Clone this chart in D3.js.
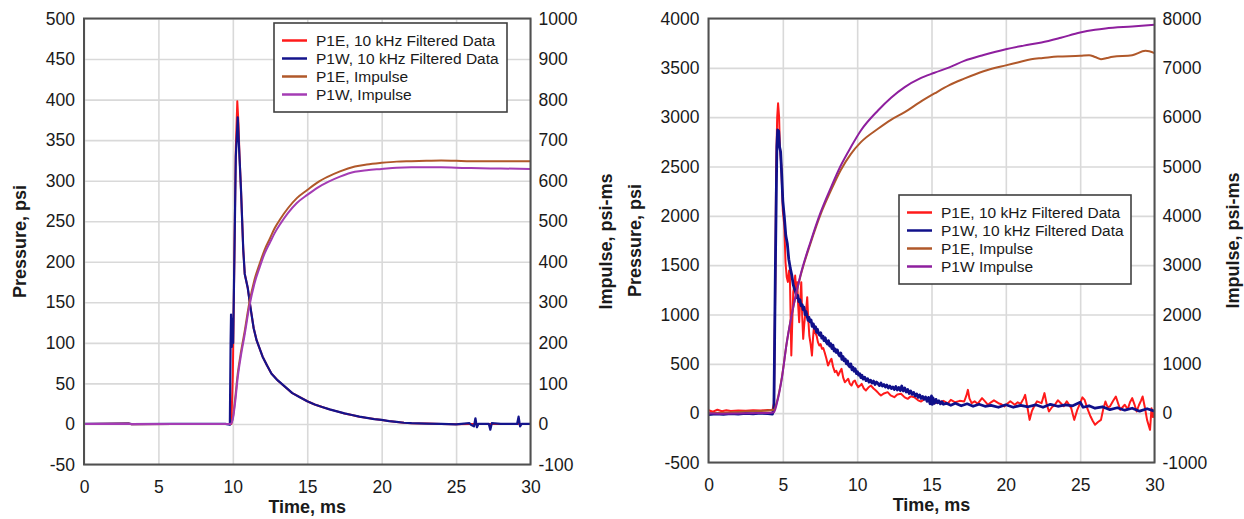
<!DOCTYPE html>
<html>
<head>
<meta charset="utf-8">
<script src="https://cdn.jsdelivr.net/npm/d3@7"></script>
<style>
body { margin: 0; background: #fff; }
svg { font-family: "Liberation Sans", Arial, sans-serif; }
</style>
</head>
<body>
<svg id="chart" width="1244" height="519"></svg>
<script>
// ---- shared ticks
var timeTicks = [0, 5, 10, 15, 20, 25, 30];
var leftPressTicks = [-50, 0, 50, 100, 150, 200, 250, 300, 350, 400, 450, 500];
var leftImpTicks = [-100, 0, 100, 200, 300, 400, 500, 600, 700, 800, 900, 1000];
var rightPressTicks = [-500, 0, 500, 1000, 1500, 2000, 2500, 3000, 3500, 4000];
var rightImpTicks = [-1000, 0, 1000, 2000, 3000, 4000, 5000, 6000, 7000, 8000];

var leftLabels = ['P1E, 10 kHz Filtered Data', 'P1W, 10 kHz Filtered Data', 'P1E, Impulse', 'P1W, Impulse'];
var rightLabels = ['P1E, 10 kHz Filtered Data', 'P1W, 10 kHz Filtered Data', 'P1E, Impulse', 'P1W Impulse'];

// ---- left test: [time ms, value]
var leftP1E = [[0,0],[3,0.5],[3.2,-0.3],[6,0],[9.5,0],[9.9,0],[10.0,60],[10.1,200],[10.2,340],[10.3,398],[10.38,370],[10.45,330],
  [10.55,288],[10.7,215],[10.8,185],[11.0,168],[11.2,142],[11.4,118],[11.6,103],[12.0,83],[12.3,72],[12.6,62],[13.0,54],
  [13.5,46],[14.0,38],[14.5,33],[15.0,28],[15.5,24],[16.0,21],[16.5,18],[17.0,15.5],[17.5,13],[18.0,11],[18.5,9],[19.0,7.5],
  [19.5,6],[20.0,5],[20.5,3.5],[21.0,2.5],[21.5,1.5],[22,1],[23,0.5],[24,0],[25,-0.5],[26,0],[28,0],[30,0]];
var leftP1W = [[0,0],[3,0.5],[3.2,-0.3],[6,0],[9.5,0],[9.8,-1],[9.85,100],[9.88,135],[9.93,95],[9.98,130],[10.02,100],[10.1,200],
  [10.2,330],[10.33,378],[10.42,340],[10.55,288],[10.7,215],[10.8,185],[11.0,168],[11.2,142],[11.4,118],[11.6,103],[12.0,83],
  [12.3,72],[12.6,62],[13.0,54],[13.5,46],[14.0,38],[14.5,33],[15.0,28],[15.5,24],[16.0,21],[16.5,18],[17.0,15.5],[17.5,13],
  [18.0,11],[18.5,9],[19.0,7.5],[19.5,6],[20.0,5],[20.5,3.5],[21.0,2.5],[21.5,1.5],[22,1],[23,0.5],[24,0],[25,-0.5],[25.9,1],
  [26.0,-1],[26.2,-3],[26.3,7],[26.4,-4],[26.5,0],[27.2,0],[27.3,-7],[27.4,1],[28,0],[29.1,0],[29.2,9],[29.3,-3],[29.4,0],[30,0]];
var leftImpP1E = [[0,0],[9.85,0],[10.0,15],[10.15,60],[10.33,124],[10.55,178],[10.77,223],[11.1,297],[11.45,355],[11.8,395],
  [12.13,429],[12.5,458],[12.8,482],[13.2,506],[13.7,532],[14.3,557],[15.0,577],[15.7,596],[16.4,610],[17.2,623],[18.2,635],
  [19.0,640],[20.0,644],[21.0,647],[22.0,648],[23.0,649],[24.0,650],[25.0,649],[26,648],[28,648],[30,648]];
var leftImpP1W = [[0,0],[9.85,0],[10.0,12],[10.15,52],[10.33,115],[10.55,170],[10.77,215],[11.1,288],[11.45,346],[11.8,386],
  [12.13,420],[12.5,448],[12.8,470],[13.2,494],[13.7,520],[14.3,545],[15.0,565],[15.7,583],[16.4,597],[17.2,610],[18.2,622],
  [19.0,626],[20.0,629],[21.0,632],[22.0,633],[23.0,633],[24.0,633],[25.0,632],[26,631],[28,630],[30,629]];

// ---- right test
var rightP1E = [[0,30],[0.3,15],[0.6,35],[0.9,20],[1.2,30],[1.5,22],[2,27],[2.5,24],[3,30],[3.5,26],[4,31],[4.3,30],
  [4.4,100],[4.5,1400],[4.55,2500],[4.62,3000],[4.68,3140],[4.75,3000],[4.8,2700],[4.9,2500],[5.0,2050],[5.1,1900],
  [5.18,1530],[5.26,1380],[5.34,1330],[5.42,1446],[5.47,1420],[5.57,584],[5.63,900],[5.7,1226],[5.77,1300],[5.83,1395],
  [5.9,1250],[5.97,1328],[6.03,1100],[6.1,922],[6.17,1150],[6.24,1328],[6.3,1000],[6.37,753],[6.44,900],[6.5,990],[6.57,1050],
  [6.64,1176],[6.7,980],[6.78,787],[6.87,700],[6.96,584],[7.03,760],[7.1,888],[7.18,820],[7.27,787],[7.36,720],[7.45,686],
  [7.54,700],[7.63,652],[7.72,660],[7.81,618],[7.92,560],[8.04,483],[8.15,520],[8.27,551],[8.38,470],[8.5,416],[8.6,430],
  [8.72,382],[8.84,420],[8.95,449],[9.06,360],[9.17,314],[9.28,330],[9.4,348],[9.5,300],[9.62,280],[9.74,320],[9.85,331],
  [9.96,290],[10.07,264],[10.2,280],[10.3,297],[10.45,250],[10.59,230],[10.75,260],[10.93,280],[11.1,250],[11.26,230],
  [11.45,200],[11.6,179],[11.8,200],[12.05,213],[12.25,180],[12.5,162],[12.7,190],[12.95,196],[13.2,160],[13.4,145],
  [13.6,170],[13.85,162],[14.1,130],[14.3,118],[14.5,140],[14.75,145],[15.0,120],[15.2,101],[15.5,110],[15.8,125],[16.1,100],
  [16.3,135],[16.6,110],[16.9,125],[17.2,118],[17.35,180],[17.45,236],[17.55,150],[17.7,101],[17.9,120],[18.1,95],[18.4,152],
  [18.6,120],[18.8,85],[19.0,110],[19.2,130],[19.5,101],[19.7,90],[19.9,68],[20.1,95],[20.3,120],[20.6,85],[20.8,110],
  [21.0,95],[21.2,150],[21.3,186],[21.45,60],[21.6,-68],[21.75,20],[21.9,68],[22.1,120],[22.4,101],[22.6,203],[22.75,90],
  [22.9,17],[23.1,60],[23.3,85],[23.5,130],[23.7,101],[23.9,70],[24.1,120],[24.4,51],[24.6,-68],[24.8,30],[25.0,101],
  [25.15,160],[25.3,135],[25.5,40],[25.7,-34],[25.85,-80],[26.0,-118],[26.2,-90],[26.4,-68],[26.55,40],[26.7,118],
  [26.85,60],[27.0,68],[27.2,120],[27.4,169],[27.55,100],[27.7,34],[27.85,60],[28.0,85],[28.2,40],[28.35,110],[28.5,152],
  [28.65,90],[28.8,17],[28.95,80],[29.1,130],[29.2,169],[29.35,60],[29.5,-68],[29.6,-120],[29.7,-169],[29.8,51],[29.9,-40],[30,10]];
var rightP1W = [[0,-15],[0.5,-8],[1,-12],[1.5,-5],[2,-10],[2.5,-3],[3,-8],[3.5,0],[4,-5],[4.3,-10],[4.4,50],[4.5,1500],
  [4.6,2700],[4.65,2870],[4.72,2860],[4.78,2700],[4.85,2650],[4.93,2400],[5.0,2150],[5.1,1990],[5.2,1800],[5.3,1720],
  [5.4,1560],[5.5,1470],[5.6,1400],[5.7,1300],[5.85,1230],[5.95,1170],[6.0,1195],[6.08,1130],[6.15,1150],[6.22,1090],
  [6.3,1100],[6.36,1050],[6.42,1075],[6.5,1000],[6.56,1030],[6.63,985],[6.7,940],[6.76,970],[6.83,925],[6.9,945],[6.97,880],
  [7.05,905],[7.12,860],[7.2,875],[7.27,820],[7.33,850],[7.4,810],[7.47,790],[7.55,815],[7.62,760],[7.7,780],[7.77,735],
  [7.85,765],[7.92,720],[8.0,700],[8.07,735],[8.15,680],[8.22,705],[8.3,655],[8.37,690],[8.45,630],[8.52,650],[8.6,615],
  [8.67,640],[8.75,595],[8.82,580],[8.9,610],[8.97,545],[9.05,575],[9.12,530],[9.2,550],[9.27,500],[9.35,530],[9.42,485],
  [9.5,470],[9.57,500],[9.65,440],[9.72,465],[9.8,425],[9.87,450],[9.95,400],[10.02,420],[10.1,385],[10.17,400],[10.25,360],
  [10.32,385],[10.4,345],[10.5,365],[10.6,330],[10.7,350],[10.8,315],[10.9,335],[11.0,305],[11.1,325],[11.2,290],[11.3,315],
  [11.4,300],[11.5,280],[11.6,305],[11.7,275],[11.8,290],[11.9,265],[12.0,285],[12.1,255],[12.2,275],[12.3,250],[12.4,265],
  [12.5,240],[12.6,270],[12.7,235],[12.8,260],[12.9,230],[13.0,275],[13.1,225],[13.2,255],[13.3,215],[13.4,240],[13.5,200],
  [13.6,225],[13.7,190],[13.8,210],[13.9,175],[14.0,195],[14.1,160],[14.2,185],[14.3,150],[14.4,170],[14.5,140],[14.6,165],
  [14.7,120],[14.8,160],[14.9,95],[15.0,175],[15.05,90],[15.1,155],[15.2,100],[15.3,140],[15.4,105],[15.5,125],[15.6,95],
  [15.7,115],[15.8,90],[16,100],[16.3,80],[16.6,100],[17,75],[17.4,95],[17.8,70],[18.2,90],[18.6,70],[19,80],[19.5,60],
  [20,85],[20.5,60],[21,80],[21.5,65],[22,85],[22.5,60],[23,90],[23.5,70],[24,85],[24.5,75],[25,110],[25.2,60],[25.6,75],
  [26,50],[26.5,65],[27,35],[27.5,55],[28,30],[28.5,50],[29,20],[29.5,45],[30,20]];
var rightImpP1E = [[0,0],[1,10],[2,25],[3,40],[4,55],[4.4,68],[4.6,230],[4.93,720],[5.27,1440],[5.72,2170],[6.18,2770],
  [6.86,3440],[7.54,4030],[8.2,4490],[8.9,4930],[9.57,5250],[10.25,5493],[11.4,5764],[12.3,5950],[13.2,6101],[14.2,6300],
  [15.2,6480],[16.2,6650],[17.2,6780],[18.5,6930],[20,7050],[20.8,7108],[21.7,7176],[22.5,7200],[23.5,7230],[25,7243],
  [25.6,7257],[26.0,7220],[26.4,7176],[26.8,7200],[27.2,7223],[28.5,7257],[29.4,7345],[30,7297]];
var rightImpP1W = [[0,0],[1,-10],[2,-5],[3,0],[4,5],[4.4,20],[4.6,200],[4.93,700],[5.27,1440],[5.72,2180],[6.18,2790],
  [6.86,3470],[7.54,4070],[8.2,4550],[8.9,5020],[9.57,5390],[10.25,5730],[11.4,6135],[12.3,6400],[13.2,6610],[14.2,6780],
  [15.2,6900],[16.2,7010],[17.2,7140],[18.5,7260],[20,7378],[21.2,7450],[22.4,7514],[23.7,7610],[25,7716],[26,7770],
  [26.7,7797],[28.5,7838],[30,7872]];

var svg = d3.select('#chart');
var plain = function(d) { return String(d); };

function drawPanel(p) {
  var x = d3.scaleLinear().domain([0, 30]).range([p.left, p.right]);
  var yP = d3.scaleLinear().domain([p.pTicks[0], p.pTicks[p.pTicks.length - 1]]).range([p.bottom, p.top]);
  var yI = d3.scaleLinear().domain([p.iTicks[0], p.iTicks[p.iTicks.length - 1]]).range([p.bottom, p.top]);
  var g = svg.append('g');

  // grid
  g.append('g')
    .attr('transform', 'translate(0,' + p.bottom + ')')
    .call(d3.axisBottom(x).tickValues(timeTicks).tickSize(-(p.bottom - p.top)).tickFormat(''))
    .call(function(s) { s.select('.domain').remove(); });
  g.append('g')
    .attr('transform', 'translate(' + p.left + ',0)')
    .call(d3.axisLeft(yP).tickValues(p.pTicks).tickSize(-(p.right - p.left)).tickFormat(''))
    .call(function(s) { s.select('.domain').remove(); });
  g.selectAll('.tick line').attr('stroke', '#d9d9d9').attr('stroke-width', 1.6);

  // series
  var clipId = 'clip' + Math.round(p.left);
  g.append('clipPath').attr('id', clipId).append('rect')
    .attr('x', p.left).attr('y', p.top).attr('width', p.right - p.left).attr('height', p.bottom - p.top);
  var lineP = d3.line().x(function(d){ return x(d[0]); }).y(function(d){ return yP(d[1]); });
  var lineI = d3.line().curve(d3.curveMonotoneX).x(function(d){ return x(d[0]); }).y(function(d){ return yI(d[1]); });
  var series = [
    {data: p.p1e, line: lineP, color: p.colors[0], w: 2},
    {data: p.p1w, line: lineP, color: p.colors[1], w: p.blueW},
    {data: p.i1e, line: lineI, color: p.colors[2], w: 2},
    {data: p.i1w, line: lineI, color: p.colors[3], w: 2}
  ];
  g.append('g').attr('clip-path', 'url(#' + clipId + ')')
    .selectAll('path').data(series).enter().append('path')
    .attr('d', function(d){ return d.line(d.data); })
    .attr('fill', 'none')
    .attr('stroke', function(d){ return d.color; })
    .attr('stroke-width', function(d){ return d.w; })
    .attr('stroke-linejoin', 'round');

  // frame
  g.append('rect')
    .attr('x', p.left).attr('y', p.top).attr('width', p.right - p.left).attr('height', p.bottom - p.top)
    .attr('fill', 'none').attr('stroke', '#505050').attr('stroke-width', 2);

  // axes labels
  var xAx = g.append('g').attr('transform', 'translate(0,' + p.bottom + ')')
    .call(d3.axisBottom(x).tickValues(timeTicks).tickFormat(plain).tickSize(0).tickPadding(16));
  var lAx = g.append('g').attr('transform', 'translate(' + p.left + ',0)')
    .call(d3.axisLeft(yP).tickValues(p.pTicks).tickFormat(plain).tickSize(0).tickPadding(9));
  var rAx = g.append('g').attr('transform', 'translate(' + p.right + ',0)')
    .call(d3.axisRight(yI).tickValues(p.iTicks).tickFormat(plain).tickSize(0).tickPadding(8));
  [xAx, lAx, rAx].forEach(function(a) {
    a.select('.domain').remove();
    a.attr('font-family', null).attr('font-size', null);
    a.selectAll('text').style('font-size', '17.5px').attr('fill', '#1a1a1a');
  });

  // titles
  g.append('text').attr('x', (p.left + p.right) / 2).attr('y', p.bottom + 48)
    .attr('text-anchor', 'middle').style('font-size', '18px').style('font-weight', 'bold').attr('fill', '#1a1a1a')
    .text('Time, ms');
  g.append('text').attr('transform', 'translate(' + p.leftTitleX + ',' + ((p.top + p.bottom) / 2) + ') rotate(-90)')
    .attr('text-anchor', 'middle').style('font-size', '18px').style('font-weight', 'bold').attr('fill', '#1a1a1a')
    .text('Pressure, psi');
  g.append('text').attr('transform', 'translate(' + p.rightTitleX + ',' + ((p.top + p.bottom) / 2) + ') rotate(-90)')
    .attr('text-anchor', 'middle').style('font-size', '18px').style('font-weight', 'bold').attr('fill', '#1a1a1a')
    .text('Impulse, psi-ms');

  // legend
  var lg = g.append('g').attr('transform', 'translate(' + p.legend[0] + ',' + p.legend[1] + ')');
  lg.append('rect').attr('width', p.legend[2]).attr('height', 89)
    .attr('fill', '#fff').attr('stroke', '#404040').attr('stroke-width', 1.6);
  var row = lg.selectAll('.row').data(p.labels).enter().append('g')
    .attr('transform', function(d, i){ return 'translate(0,' + (17.5 + i * 18) + ')'; });
  row.append('line').attr('x1', 8).attr('x2', 33).attr('y1', 0).attr('y2', 0)
    .attr('stroke', function(d, i){ return p.colors[i]; }).attr('stroke-width', 2.5);
  row.append('text').attr('x', 42).attr('y', 5.5).style('font-size', '15.5px').attr('fill', '#1a1a1a')
    .text(function(d){ return d; });
}

drawPanel({
  left: 84, right: 530.5, top: 18.5, bottom: 464.5,
  pTicks: leftPressTicks, iTicks: leftImpTicks,
  p1e: leftP1E, p1w: leftP1W, i1e: leftImpP1E, i1w: leftImpP1W,
  colors: ['#ff1a1a', '#14148c', '#b0582a', '#a43cb4'], blueW: 2.2,
  labels: leftLabels, legend: [274, 23, 233],
  leftTitleX: 26, rightTitleX: 612
});
drawPanel({
  left: 708.5, right: 1154.5, top: 18.5, bottom: 462.5,
  pTicks: rightPressTicks, iTicks: rightImpTicks,
  p1e: rightP1E, p1w: rightP1W, i1e: rightImpP1E, i1w: rightImpP1W,
  colors: ['#ff1a1a', '#10108a', '#b0582a', '#8e1f9e'], blueW: 2.8,
  labels: rightLabels, legend: [899, 195, 232],
  leftTitleX: 641, rightTitleX: 1239
});
</script>
</body>
</html>
